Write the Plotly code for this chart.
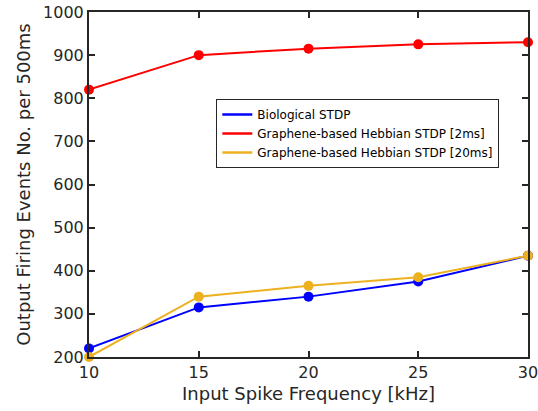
import plotly.graph_objects as go

freq_khz = [10, 15, 20, 25, 30]
bio_stdp = [220, 315, 340, 375, 435]
hebbian_2ms = [820, 900, 915, 925, 930]
hebbian_20ms = [200, 340, 365, 385, 435]

series = [
    ("Biological STDP", bio_stdp, "#0000FF"),
    ("Graphene-based Hebbian STDP [2ms]", hebbian_2ms, "#FF0000"),
    ("Graphene-based Hebbian STDP [20ms]", hebbian_20ms, "#EDB120"),
]

fig = go.Figure()
for name, vals, color in series:
    fig.add_trace(go.Scatter(
        x=freq_khz, y=vals, name=name, mode="lines+markers",
        line=dict(color=color, width=2),
        marker=dict(color=color, size=10),
        cliponaxis=False, showlegend=False,
    ))
# line-only legend entries
for name, vals, color in series:
    fig.add_trace(go.Scatter(
        x=[None], y=[None], name=name, mode="lines",
        line=dict(color=color, width=2.5), showlegend=True,
    ))

axis_common = dict(
    showline=True, mirror="ticks", linecolor="#262626", linewidth=2,
    ticks="inside", ticklen=6, tickwidth=1.5, tickcolor="#262626",
    showgrid=False, zeroline=False, automargin=False,
    ticklabeloverflow="allow",
    tickfont=dict(family="DejaVu Sans", size=16, color="#262626"),
)

fig.update_layout(
    width=538, height=411,
    margin=dict(l=89, r=10, t=12, b=54),
    paper_bgcolor="white", plot_bgcolor="white",
    font=dict(family="DejaVu Sans", color="#262626"),
    xaxis=dict(range=[10, 30], tickvals=freq_khz,
               title=dict(text="Input Spike Frequency [kHz]", font=dict(size=18), standoff=6),
               **axis_common),
    yaxis=dict(range=[200, 1000], dtick=100,
               title=dict(text="Output Firing Events No. per 500ms", font=dict(size=18), standoff=8),
               **axis_common),
    legend=dict(x=0.29, y=0.748, xanchor="left", yanchor="top",
                bgcolor="white", bordercolor="#262626", borderwidth=1,
                font=dict(family="DejaVu Sans", size=12, color="#000000"),
                itemwidth=30, tracegroupgap=0),
)

fig.write_html("out.html")
